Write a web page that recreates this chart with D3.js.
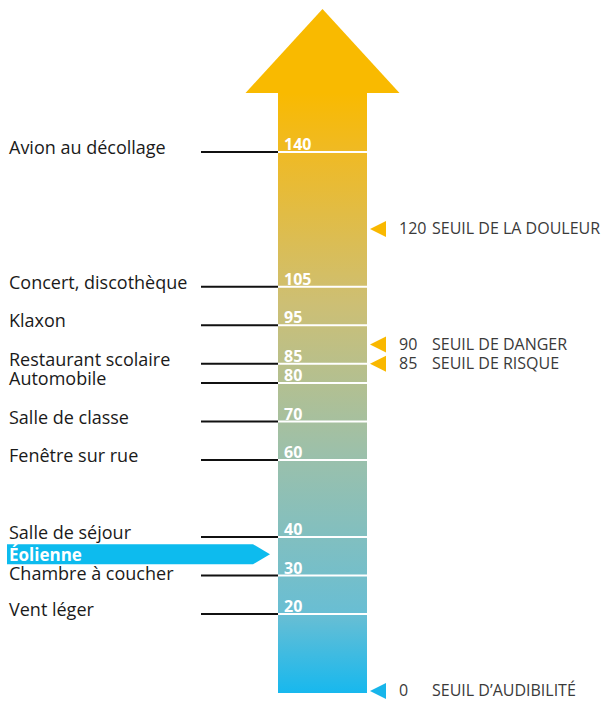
<!DOCTYPE html>
<html>
<head>
<meta charset="utf-8">
<script src="https://cdn.jsdelivr.net/npm/d3@7"></script>
<style>
  body { margin: 0; background: #fff; }
  svg text { font-family: "Open Sans", "Noto Sans", sans-serif; }
</style>
</head>
<body>
<svg id="chart" width="605" height="701"></svg>
<script>
// sound sources and their level (dB)
sources = ['Avion au décollage', 'Concert, discothèque', 'Klaxon', 'Restaurant scolaire', 'Automobile',
	'Salle de classe', 'Fenêtre sur rue', 'Salle de séjour', 'Chambre à coucher', 'Vent léger'];
levels = [140, 105, 95, 85, 80, 70, 60, 40, 30, 20];

// thresholds shown on the right
thresholdNames = ['SEUIL DE LA DOULEUR', 'SEUIL DE DANGER', 'SEUIL DE RISQUE', 'SEUIL D\u2019AUDIBILIT\u00c9'];
thresholdValues = [120, 90, 85, 0];

// highlighted source
highlightName = 'Éolienne';
highlightValue = 35;

width = 605;
height = 701;
barLeft = 278;
barRight = 367;
headTop = 9;
headBase = 93;
lineStart = 201;

svg = d3.select('#chart');
y = d3.scaleLinear().domain([0, 140]).range([691, 152]);

defs = svg.append('defs');
grad = defs.append('linearGradient')
	.attr('id', 'barGrad')
	.attr('gradientUnits', 'userSpaceOnUse')
	.attr('x1', 0).attr('x2', 0)
	.attr('y1', headBase).attr('y2', y(0) + 2);
[[0, '#f9ba00'], [0.1, '#efba25'], [0.35, '#cdbf74'], [0.6, '#9cc0aa'], [0.87, '#68bed4'], [1, '#17b8ee']]
	.forEach(s => grad.append('stop').attr('offset', s[0]).attr('stop-color', s[1]));

// arrow body + head
svg.append('rect')
	.attr('x', barLeft)
	.attr('y', headBase - 1)
	.attr('width', barRight - barLeft)
	.attr('height', y(0) + 2 - headBase + 1)
	.attr('fill', 'url(#barGrad)');
cx = (barLeft + barRight) / 2;
svg.append('polygon')
	.attr('points', `${cx},${headTop} ${cx - 77},${headBase} ${cx + 77},${headBase}`)
	.attr('fill', '#f9ba00');

// highlighted source band
hy = y(highlightValue);
bandTop = hy - 12;
bandBottom = hy + 8;

// level lines
lv = svg.append('g').selectAll('g').data(levels).join('g');
lv.append('line')
	.attr('x1', lineStart).attr('x2', barLeft)
	.attr('y1', d => y(d)).attr('y2', d => y(d))
	.attr('stroke', '#111').attr('stroke-width', 2);
lv.append('line')
	.attr('x1', barLeft).attr('x2', barRight)
	.attr('y1', d => y(d)).attr('y2', d => y(d))
	.attr('stroke', '#fff').attr('stroke-width', 2);
lv.append('text')
	.attr('x', barLeft + 6)
	.attr('y', d => y(d) - 2)
	.attr('fill', '#fff')
	.attr('font-weight', 'bold')
	.attr('font-size', 16)
	.text(d => d);
lv.append('text')
	.attr('x', 9)
	.attr('y', d => d < highlightValue ? Math.max(y(d) + 2, bandBottom + 16) : y(d) + 2)
	.attr('fill', '#1a1a1a')
	.attr('font-size', 18)
	.text((d, i) => sources[i]);

svg.append('polygon')
	.attr('points', `7,${bandTop} 253,${bandTop} 270,${hy - 2} 253,${bandBottom} 7,${bandBottom}`)
	.attr('fill', '#0dbbee');
svg.append('text')
	.attr('x', 9)
	.attr('y', hy + 5)
	.attr('fill', '#fff')
	.attr('font-weight', 'bold')
	.attr('font-size', 17)
	.text(highlightName);

// thresholds
th = svg.append('g').selectAll('g').data(thresholdValues).join('g');
th.append('polygon')
	.attr('points', d => `370,${y(d)} 386,${y(d) - 8} 386,${y(d) + 8}`)
	.attr('fill', d => d === 0 ? '#17b5ea' : '#f9b800');
th.append('text')
	.attr('x', 399)
	.attr('y', d => y(d) + 5)
	.attr('fill', '#3a3a3a')
	.attr('font-size', 16)
	.text(d => d);
th.append('text')
	.attr('x', 432)
	.attr('y', d => y(d) + 5)
	.attr('fill', '#3a3a3a')
	.attr('font-size', 16)
	.text((d, i) => thresholdNames[i]);
</script>
</body>
</html>
